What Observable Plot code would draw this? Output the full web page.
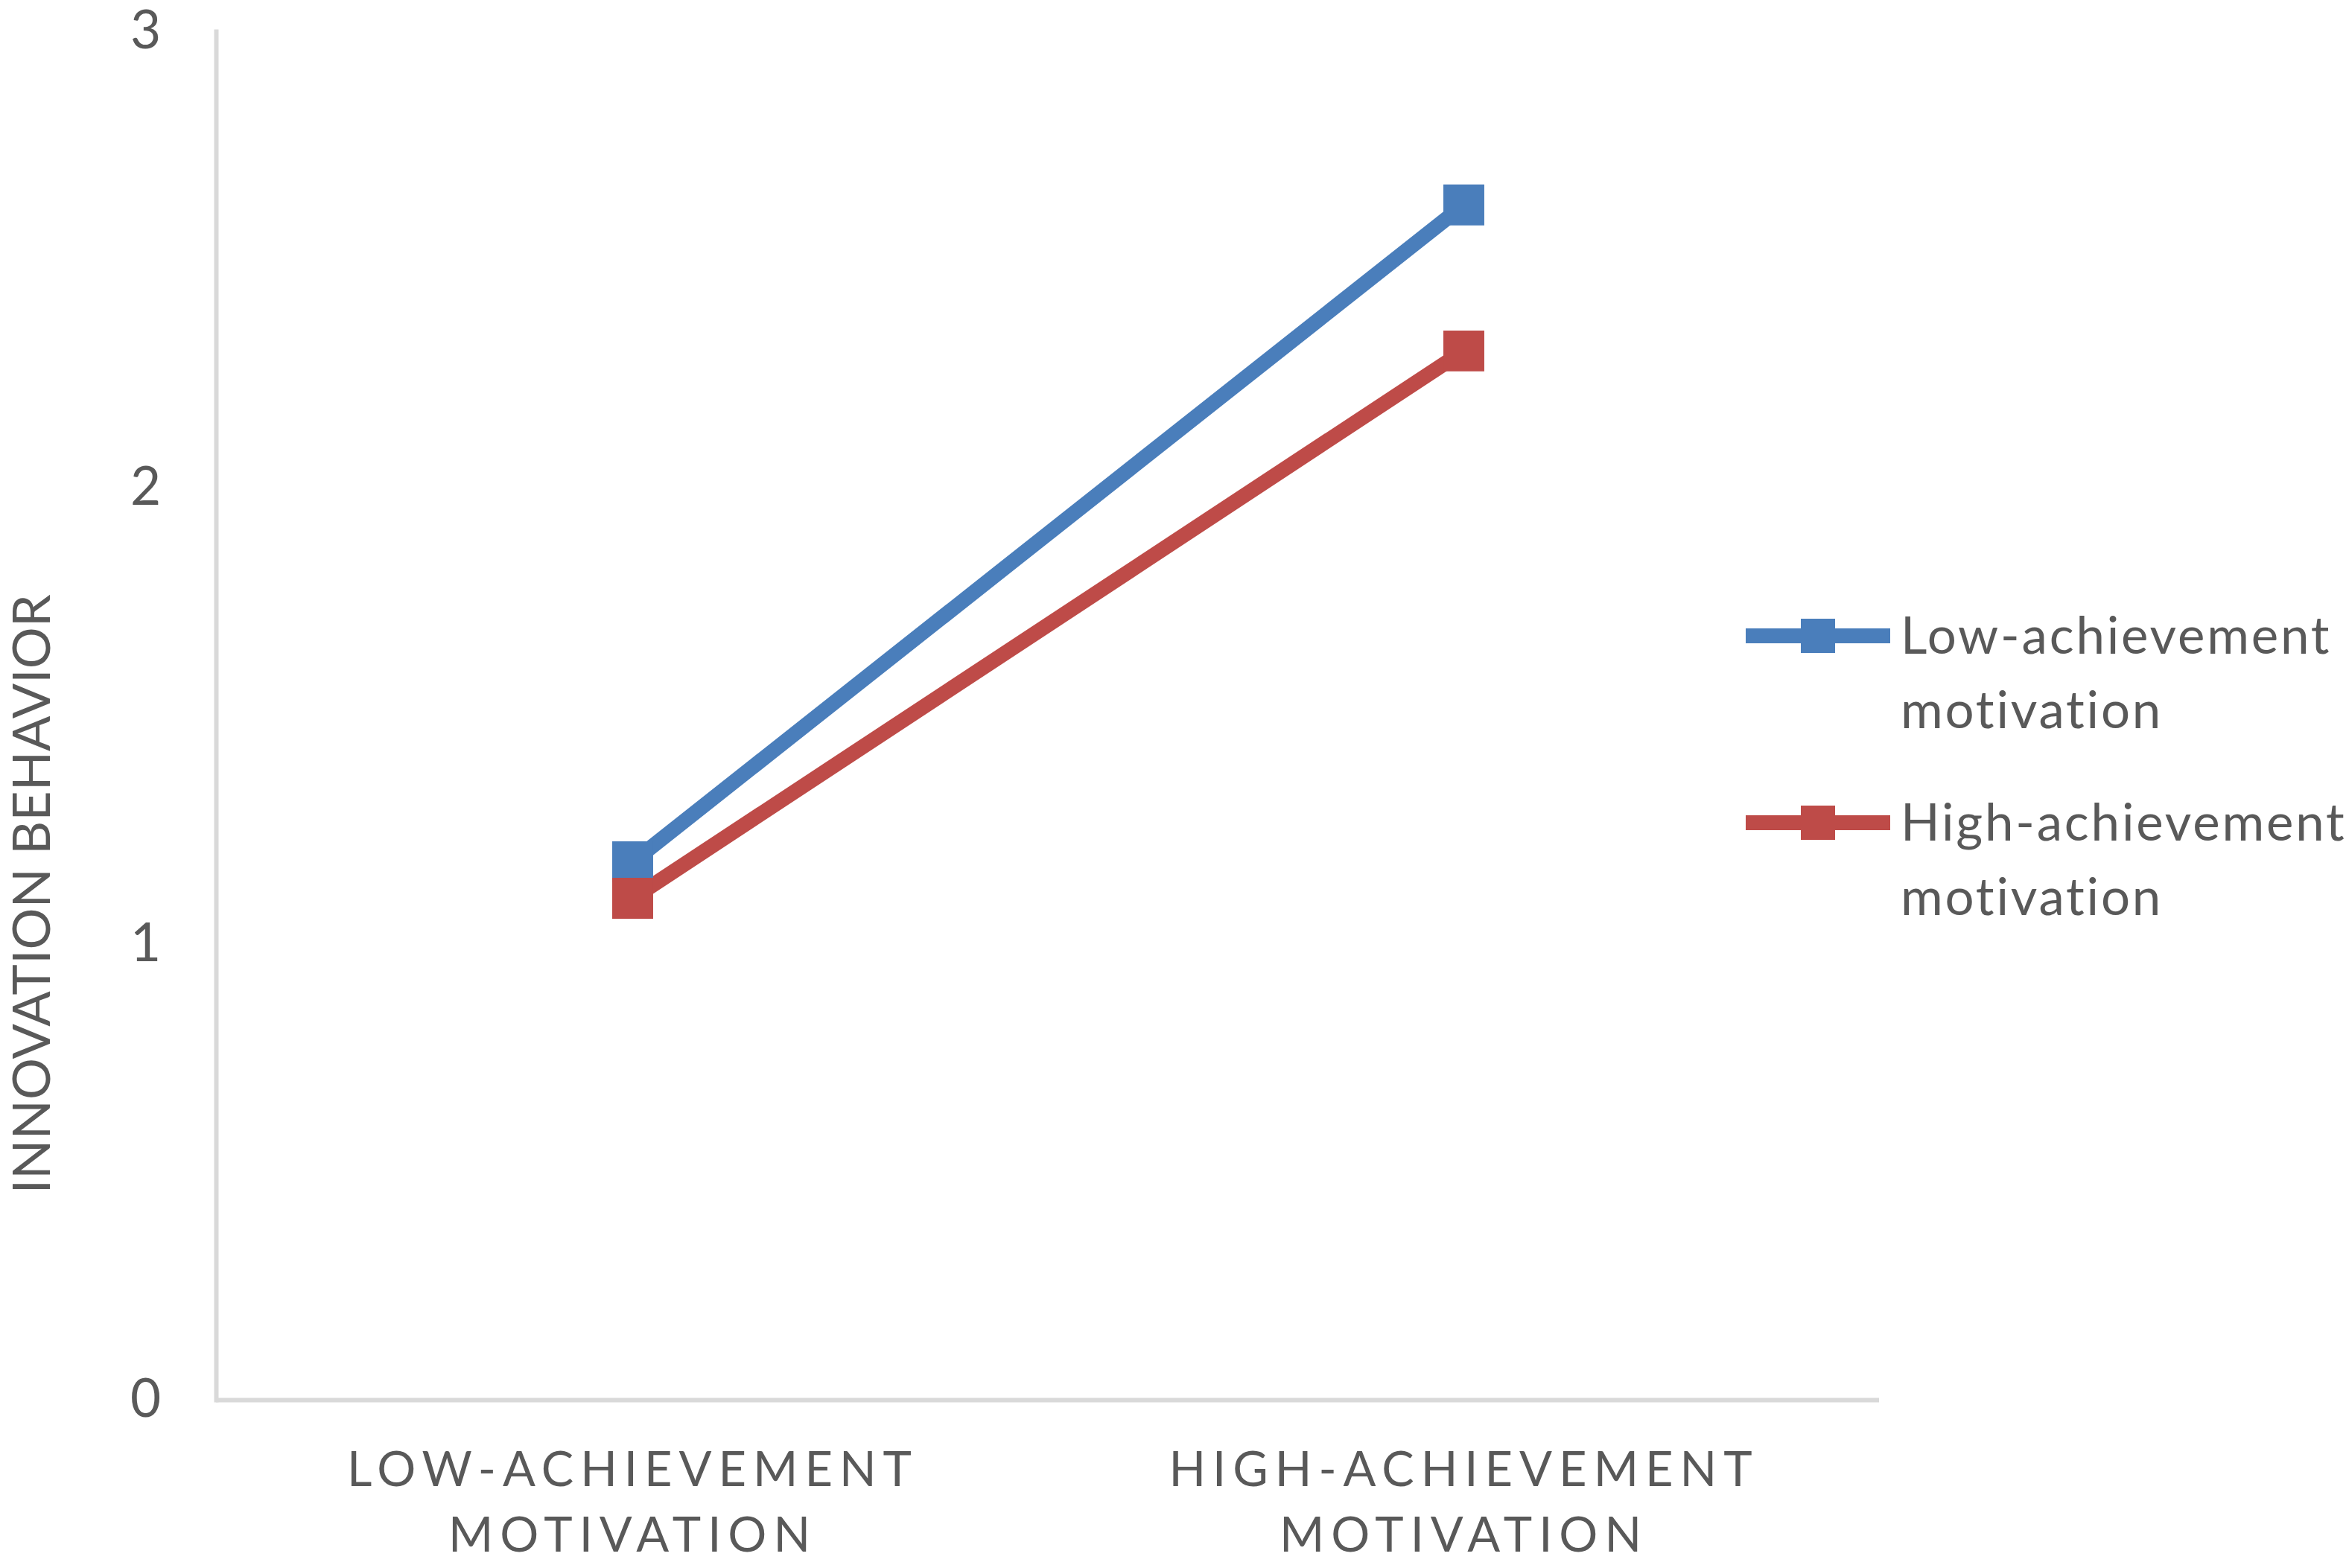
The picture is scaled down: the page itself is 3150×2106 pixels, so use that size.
<!DOCTYPE html>
<html><head><meta charset="utf-8">
<script src="https://cdn.jsdelivr.net/npm/d3@7"></script>
<script src="https://cdn.jsdelivr.net/npm/@observablehq/plot@0.6"></script>
<style>
html,body{margin:0;padding:0;background:#fff;}
#wrap{position:relative;width:3150px;height:2106px;overflow:hidden;}
#legend{position:absolute;left:2344px;top:802px;font-family:Lato,sans-serif;font-size:69px;color:#595959;}
.entry{display:flex;align-items:flex-start;margin-bottom:51px;}
.entry svg{flex:none;margin-right:14px;display:block;}
.entry .lbl{line-height:100px;white-space:nowrap;letter-spacing:2.8px;}
</style></head><body><div id="wrap"></div>
<script>
const categories = ["LOW-ACHIEVEMENT\nMOTIVATION", "HIGH-ACHIEVEMENT\nMOTIVATION"];
const seriesNames = ["Low-achievement motivation", "High-achievement motivation"];
const lowAchievementValues = [1.18, 2.62];
const highAchievementValues = [1.10, 2.30];
const seriesColors = ["#4a7ebb", "#be4b48"];
const yTicks = [0, 1, 2, 3];
const yLabel = "INNOVATION BEHAVIOR";
const legendLines = [["Low-achievement", "motivation"], ["High-achievement", "motivation"]];

const seriesValues = [lowAchievementValues, highAchievementValues];
const rows = [];
seriesNames.forEach((s, si) => categories.forEach((c, ci) => rows.push({series: s, category: c, value: seriesValues[si][ci]})));

const plot = Plot.plot({
  width: 3150, height: 2106,
  marginLeft: 290, marginRight: 627, marginTop: 42, marginBottom: 226,
  style: {fontFamily: "Lato, sans-serif", color: "#595959", background: "#fff"},
  x: {type: "point", domain: categories, padding: 0.5},
  y: {domain: [0, 3]},
  color: {domain: seriesNames, range: seriesColors},
  marks: [
    Plot.frame({anchor: "left", stroke: "#d9d9d9", strokeWidth: 6}),
    Plot.ruleY([0], {stroke: "#d9d9d9", strokeWidth: 6}),
    Plot.axisY({ticks: yTicks, tickFormat: d3.format("d"), tickSize: 0, tickPadding: 95, textAnchor: "middle", fontSize: 71, label: null, fill: "#595959"}),
    Plot.axisX({tickSize: 0, tickPadding: 53, fontSize: 65, lineHeight: 1.354, label: null, fill: "#595959"}),
    Plot.line(rows, {x: "category", y: "value", stroke: "series", z: "series", strokeWidth: 20}),
    Plot.dot(rows, {x: "category", y: "value", fill: "series", symbol: "square", r: 31})
  ]
});

const svg = d3.select(plot);
svg.selectAll('g[aria-label="x-axis tick label"] text').style("letter-spacing", "9px");
svg.append("text")
  .attr("transform", "translate(67,1201) rotate(-90)")
  .attr("text-anchor", "middle")
  .attr("fill", "#595959")
  .attr("font-family", "Lato, sans-serif")
  .attr("font-size", 70)
  .text(yLabel);

const wrap = document.getElementById("wrap");
wrap.appendChild(plot);

const legend = d3.select(wrap).append("div").attr("id", "legend");
seriesNames.forEach((s, i) => {
  const e = legend.append("div").attr("class", "entry");
  const sw = e.append("svg").attr("width", 194).attr("height", 100);
  sw.append("line").attr("x1", 0).attr("x2", 194).attr("y1", 52).attr("y2", 52)
    .attr("stroke", seriesColors[i]).attr("stroke-width", 20);
  sw.append("rect").attr("x", 97 - 23).attr("y", 52 - 23).attr("width", 46).attr("height", 46)
    .attr("fill", seriesColors[i]);
  e.append("div").attr("class", "lbl").html(legendLines[i].join("<br>"));
});
</script></body></html>
